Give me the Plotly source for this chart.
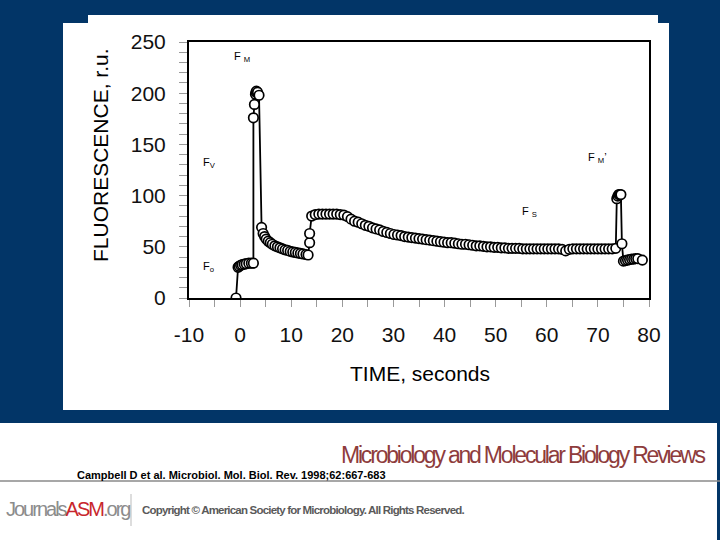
import plotly.graph_objects as go

# ---------------- data ----------------
time_s = [
    -0.8, -0.4, -0.2, 0.1, 0.4, 0.8, 1.2, 1.7, 2.2, 2.6,
    2.6, 2.8, 3.0, 3.1, 3.2, 3.4, 3.7,
    4.2, 4.5, 4.8, 5.1, 5.5, 5.9, 6.3, 6.8, 7.3, 7.8, 8.3, 8.8, 9.3, 9.8,
    10.3, 10.8, 11.3, 11.8, 12.3, 12.9, 13.3,
    13.6, 13.6,
    14.0, 14.7, 15.4, 16.1, 16.8, 17.5, 18.2, 18.9, 19.6, 20.3,
    21.0, 21.7, 22.4, 23.1, 23.8, 24.5, 25.2, 25.9, 26.6, 27.3,
    28.0, 28.7, 29.4, 30.1, 30.8, 31.5, 32.2, 32.9, 33.6, 34.3,
    35.0, 35.7, 36.4, 37.1, 37.8, 38.5, 39.2, 39.9, 40.6, 41.3,
    42.0, 42.7, 43.4, 44.1, 44.8, 45.5, 46.2, 46.9, 47.6, 48.3,
    49.0, 49.7, 50.4, 51.1, 51.8, 52.5, 53.2, 53.9, 54.6, 55.3,
    56.0, 56.7, 57.4, 58.1, 58.8, 59.5, 60.2, 60.9, 61.6, 62.3,
    63.0, 63.7, 64.4, 65.1, 65.8, 66.5, 67.2, 67.9, 68.6, 69.3,
    70.0, 70.7, 71.4, 72.1, 72.8, 73.5,
    73.7, 73.9, 74.1, 74.3, 74.5, 74.7,
    75.0, 75.4, 75.8, 76.2, 76.6, 77.0, 77.4, 77.8, 78.7,
]
fluorescence = [
    0, 30, 31, 32, 32.5, 33, 33.5, 34, 34, 34,
    176, 189, 199, 201, 202, 201, 198,
    69, 63, 60, 57.5, 55.5, 54, 52.5, 51, 50, 49, 48, 47, 46.5, 45.5,
    45, 44.5, 44, 43.5, 43, 42.5, 42,
    54, 63,
    80, 81.5, 82, 82, 82, 82, 82, 82, 81.5, 81,
    79.5, 77, 75, 74, 72.5, 71, 70, 68.5, 67.5, 66.5,
    65, 64, 63, 62, 61.5, 61, 60, 59.5, 59, 58.5,
    58, 57.5, 57, 56.5, 56, 55.5, 55, 54.5, 54, 54,
    53.5, 53, 52.5, 52.5, 52, 51.5, 51, 51, 50.5, 50,
    50, 49.5, 49.5, 49, 49, 48.5, 48.5, 48.5, 48.5, 48,
    48, 48, 48, 48, 48, 48, 48, 48, 48, 48,
    47.5, 46, 47.5, 48, 48, 48, 48, 48, 48, 48,
    48, 48, 48, 48, 48, 48.5,
    97, 99.5, 101, 101, 101, 53,
    36, 36.5, 37, 37.5, 38, 38, 38.5, 38.5, 37,
]
x_ticks = [-10, 0, 10, 20, 30, 40, 50, 60, 70, 80]
y_ticks = [0, 50, 100, 150, 200, 250]

# ---------------- layout helpers ----------------
W, H = 720, 540
L, R, T, B = 189, 649, 42, 298
NAVY = "#023567"
FONT = "Arial, Liberation Sans, sans-serif"


def px(x):
    return (x - L) / (R - L)


def py(y):
    return (B - y) / (B - T)


def rect(x0, y0, x1, y1, color):
    return dict(type="rect", xref="paper", yref="paper", layer="below",
                x0=px(x0), x1=px(x1), y0=py(y1), y1=py(y0),
                fillcolor=color, line=dict(width=0))


fig = go.Figure()
fig.add_trace(go.Scatter(
    x=time_s, y=fluorescence, mode="lines+markers",
    line=dict(color="black", width=1.8),
    marker=dict(symbol="circle", size=9.5, color="white",
                line=dict(color="black", width=1.7)),
    showlegend=False, hoverinfo="x+y",
))

shapes = [
    rect(88, 15, 658, 24, "white"),
    rect(63, 23, 669, 410, "white"),
    rect(0, 423, 717, 540, "white"),
    dict(type="line", xref="paper", yref="paper",
         x0=px(0), x1=px(720), y0=py(481), y1=py(481),
         line=dict(color="#8a8a8a", width=1.5)),
    dict(type="line", xref="paper", yref="paper",
         x0=px(131), x1=px(131), y0=py(494), y1=py(526),
         line=dict(color="#bbbbbb", width=1)),
]


def ann(x, y, text, size, color="black", family=FONT, xanchor="left",
        textangle=0, weight="normal"):
    return dict(xref="paper", yref="paper", x=px(x), y=py(y), text=text,
                showarrow=False, xanchor=xanchor, yanchor="middle",
                textangle=textangle,
                font=dict(family=family, size=size, color=color, weight=weight))


annotations = [
    ann(100, 155, "FLUORESCENCE, r.u.", 21, xanchor="center", textangle=-90),
    ann(420, 373, "TIME, seconds", 21, xanchor="center"),
    ann(232, 57, "F <sub>M</sub>", 11),
    ann(201, 163, "F<sub>V</sub>", 11),
    ann(201, 267, "F<sub>o</sub>", 11),
    ann(520, 212, "F <sub>S</sub>", 11),
    ann(586, 158, "F <sub>M</sub>’", 11),
    ann(707, 455,
        "<span style='letter-spacing:-2.2px'>Microbiology and Molecular Biology Reviews</span>",
        23, color="#8e3c3c", xanchor="right"),
    ann(75, 475, "Campbell D et al. Microbiol. Mol. Biol. Rev. 1998;62:667-683",
        11, weight="bold"),
    ann(4, 509,
        "<span style='letter-spacing:-2px'>Journals<span style='color:#c8262c'>ASM</span>.org</span>",
        20, color="#8c8c8c"),
    ann(140, 510,
        "<span style='letter-spacing:-0.8px'>Copyright © American Society for Microbiology. All Rights Reserved.</span>",
        11.5, color="#5a5a5a", weight="bold"),
]

fig.update_layout(
    width=W, height=H,
    margin=dict(l=L, r=W - R, t=T, b=H - B, pad=0),
    paper_bgcolor=NAVY, plot_bgcolor="white",
    shapes=shapes, annotations=annotations,
    showlegend=False,
    xaxis=dict(range=[-10, 80], tickvals=x_ticks, ticktext=[str(v) for v in x_ticks],
               showgrid=False, zeroline=False,
               showline=True, linecolor="black", linewidth=2, mirror=True,
               ticks="outside", ticklen=7, tickcolor="#9a9a9a", tickwidth=1,
               ticklabelstandoff=10,
               minor=dict(dtick=5, tick0=0, ticks="outside", ticklen=7,
                          tickcolor="#9a9a9a", tickwidth=1),
               tickfont=dict(family=FONT, size=21, color="#111111")),
    yaxis=dict(range=[0, 250], tickvals=y_ticks, ticktext=[str(v) for v in y_ticks],
               showgrid=False, zeroline=False,
               showline=True, linecolor="black", linewidth=2, mirror=True,
               ticks="outside", ticklen=8, tickcolor="#9a9a9a", tickwidth=1,
               ticklabelstandoff=9,
               minor=dict(dtick=10, tick0=0, ticks="outside", ticklen=8,
                          tickcolor="#9a9a9a", tickwidth=1),
               tickfont=dict(family=FONT, size=21, color="#111111")),
)

fig.write_html("out.html",
               config={"displayModeBar": False},
               post_script="document.body.style.margin='0';"
                           "document.body.style.overflow='hidden';")
